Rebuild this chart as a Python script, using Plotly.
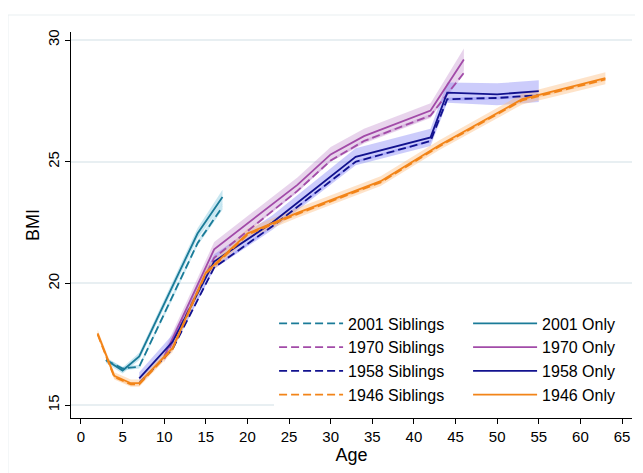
import plotly.graph_objects as go

# ---- data ----
ages_2001 = [3, 5, 7, 11, 14, 17]
bmi_2001_sib = [16.85, 16.5, 16.58, 19.45, 21.65, 23.15]
bmi_2001_only = [16.85, 16.42, 17.0, 19.9, 22.05, 23.55]
ci_2001_sib = [0.08, 0.08, 0.08, 0.1, 0.1, 0.12]
ci_2001_only = [0.12, 0.12, 0.15, 0.2, 0.22, 0.3]

ages_1970 = [10, 16, 26, 30, 34, 42, 46]
bmi_1970_sib = [16.9, 21.05, 23.8, 25.05, 25.85, 26.9, 28.65]
bmi_1970_only = [17.0, 21.4, 24.05, 25.3, 26.05, 27.1, 29.2]
ci_1970_sib = [0.05, 0.05, 0.05, 0.05, 0.05, 0.06, 0.08]
ci_1970_only = [0.25, 0.3, 0.3, 0.3, 0.3, 0.3, 0.45]

ages_1958 = [7, 11, 16, 23, 33, 42, 44, 50, 55]
bmi_1958_sib = [15.9, 17.3, 20.65, 22.35, 25.0, 25.85, 27.57, 27.62, 27.73]
bmi_1958_only = [16.1, 17.6, 20.9, 22.5, 25.2, 26.0, 27.84, 27.77, 27.9]
ci_1958_sib = [0.05, 0.05, 0.05, 0.05, 0.05, 0.05, 0.06, 0.06, 0.06]
ci_1958_only = [0.25, 0.3, 0.3, 0.3, 0.35, 0.35, 0.42, 0.45, 0.45]

ages_1946 = [2, 4, 6, 7, 11, 15, 20, 26, 36, 43, 53, 63]
bmi_1946_sib = [17.9, 16.15, 15.85, 15.85, 17.3, 20.4, 22.0, 22.85, 24.15, 25.62, 27.52, 28.38]
bmi_1946_only = [17.95, 16.2, 15.9, 15.9, 17.35, 20.45, 22.05, 22.9, 24.2, 25.67, 27.57, 28.43]
ci_1946_sib = [0.06, 0.06, 0.06, 0.06, 0.06, 0.06, 0.06, 0.06, 0.06, 0.06, 0.06, 0.06]
ci_1946_only = [0.15, 0.15, 0.15, 0.15, 0.18, 0.2, 0.2, 0.2, 0.2, 0.2, 0.22, 0.25]

x_ticks = list(range(0, 70, 5))
y_ticks = [15, 20, 25, 30]

# ---- styles ----
cohorts = [
    ("2001", ages_2001, bmi_2001_sib, bmi_2001_only, ci_2001_sib, ci_2001_only,
     "#1a7b98", "rgba(120,195,220,0.40)"),
    ("1970", ages_1970, bmi_1970_sib, bmi_1970_only, ci_1970_sib, ci_1970_only,
     "#a24ba8", "rgba(185,120,195,0.32)"),
    ("1958", ages_1958, bmi_1958_sib, bmi_1958_only, ci_1958_sib, ci_1958_only,
     "#12128f", "rgba(120,120,245,0.38)"),
    ("1946", ages_1946, bmi_1946_sib, bmi_1946_only, ci_1946_sib, ci_1946_only,
     "#f28418", "rgba(253,185,120,0.40)"),
]

fig = go.Figure()

# confidence bands
for name, ages, sib, only, csib, conly, col, band in cohorts:
    for vals, ci in ((only, conly), (sib, csib)):
        upper = [v + c for v, c in zip(vals, ci)]
        lower = [v - c for v, c in zip(vals, ci)]
        fig.add_trace(go.Scatter(
            x=list(ages) + list(ages)[::-1],
            y=upper + lower[::-1],
            fill="toself", fillcolor=band, mode="lines",
            line=dict(width=0), hoverinfo="skip", showlegend=False))

# lines (legend ordered row-wise: siblings | only)
for name, ages, sib, only, csib, conly, col, band in cohorts:
    fig.add_trace(go.Scatter(
        x=ages, y=sib, mode="lines", name=f"{name} Siblings",
        line=dict(color=col, width=1.8, dash="8px,4px")))
    fig.add_trace(go.Scatter(
        x=ages, y=only, mode="lines", name=f"{name} Only",
        line=dict(color=col, width=1.8)))

font = "Liberation Sans, Arial, sans-serif"
fig.update_layout(
    width=643, height=473,
    margin=dict(l=63, r=19, t=24, b=63, autoexpand=False),
    paper_bgcolor="white", plot_bgcolor="white",
    font=dict(family=font, size=15, color="black"),
    showlegend=True,
    legend=dict(
        orientation="h", x=0.362, xanchor="left", y=0.0145, yanchor="bottom",
        bgcolor="white", borderwidth=0, entrywidth=115, entrywidthmode="pixels",
        itemwidth=64, font=dict(size=16), traceorder="normal",
    ),
    xaxis=dict(
        range=[-1.2, 66.2], tickmode="array", tickvals=x_ticks,
        ticks="outside", ticklen=5, tickcolor="black", showline=True,
        linecolor="black", linewidth=1, showgrid=False, zeroline=False,
        title=dict(text="Age", standoff=0), tickfont=dict(size=15),
        automargin=False,
    ),
    yaxis=dict(
        range=[14.47, 30.33], tickmode="array", tickvals=y_ticks,
        ticks="outside", ticklen=5, tickcolor="black", showline=True,
        linecolor="black", linewidth=1, showgrid=True, gridcolor="#e8eff2",
        gridwidth=1.5, zeroline=False, tickangle=-90,
        title=dict(text="BMI", standoff=0), tickfont=dict(size=15),
        automargin=False,
    ),
    shapes=[dict(type="rect", xref="paper", yref="paper",
                 x0=-0.1123, x1=1.2, y0=-0.2, y1=1.044,
                 line=dict(color="#e9eff1", width=1), fillcolor="rgba(0,0,0,0)",
                 layer="below")],
)

fig.write_html("out.html")
